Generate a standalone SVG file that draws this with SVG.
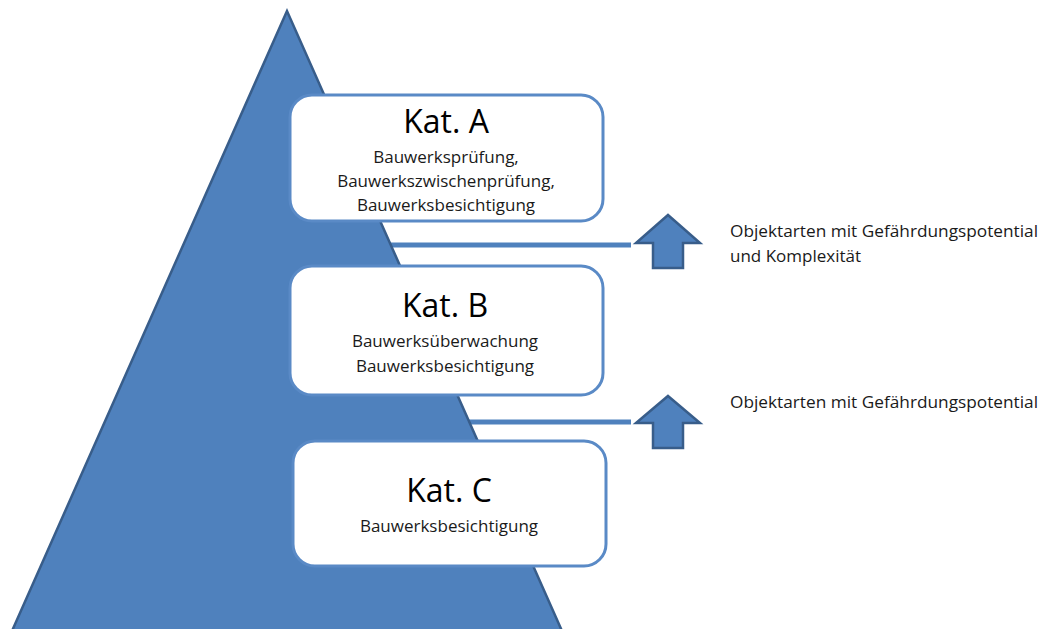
<svg xmlns="http://www.w3.org/2000/svg" width="1046" height="629" viewBox="0 0 1046 629">
<style>
.tri{fill:#4F81BD;stroke:#385D8A;stroke-width:2.5;stroke-linejoin:miter}
.box{fill:#FFFFFF;stroke:#5A8AC6;stroke-width:3}
.bar{stroke:#4F81BD;stroke-width:5;fill:none}
.arr{fill:#4F81BD;stroke:#385D8A;stroke-width:2.5;stroke-linejoin:miter}
.kat{font-family:"Open Sans","Liberation Sans",sans-serif;font-size:32px;fill:#000;text-anchor:middle}
.sub{font-family:"Open Sans","Liberation Sans",sans-serif;font-size:17px;fill:#1a1a1a;text-anchor:middle}
.lbl{font-family:"Open Sans","Liberation Sans",sans-serif;font-size:17px;fill:#1a1a1a}
</style>
<rect width="1046" height="629" fill="#FFFFFF"/>
<g id="connectors">
<line class="bar" x1="380" y1="245" x2="631" y2="245"/>
<line class="bar" x1="450" y1="422" x2="631" y2="422"/>
</g>
<g id="pyramid">
<polygon class="tri" points="287,11 8,640 566,640"/>
</g>
<g id="katA">
<rect class="box" x="290" y="95" width="313" height="126" rx="22" ry="22"/>
<text class="kat" x="446" y="133">Kat. A</text>
<text class="sub" x="446" y="163">Bauwerksprüfung,</text>
<text class="sub" x="446" y="187">Bauwerkszwischenprüfung,</text>
<text class="sub" x="446" y="211">Bauwerksbesichtigung</text>
</g>
<g id="katB">
<rect class="box" x="290" y="266" width="313" height="129" rx="22" ry="22"/>
<text class="kat" x="445" y="317">Kat. B</text>
<text class="sub" x="445" y="347">Bauwerksüberwachung</text>
<text class="sub" x="445" y="372">Bauwerksbesichtigung</text>
</g>
<g id="katC">
<rect class="box" x="293" y="441" width="313" height="125" rx="22" ry="22"/>
<text class="kat" x="449" y="502">Kat. C</text>
<text class="sub" x="449" y="532">Bauwerksbesichtigung</text>
</g>
<g id="arrow1">
<polygon class="arr" points="668,215 700,243 683,243 683,268 653,268 653,243 636,243"/>
<text class="lbl" x="730" y="237" textLength="308" lengthAdjust="spacingAndGlyphs">Objektarten mit Gefährdungspotential</text>
<text class="lbl" x="730" y="262">und Komplexität</text>
</g>
<g id="arrow2">
<polygon class="arr" points="668,396 700,423 683,423 683,448 653,448 653,423 636,423"/>
<text class="lbl" x="730" y="408" textLength="308" lengthAdjust="spacingAndGlyphs">Objektarten mit Gefährdungspotential</text>
</g>
</svg>
